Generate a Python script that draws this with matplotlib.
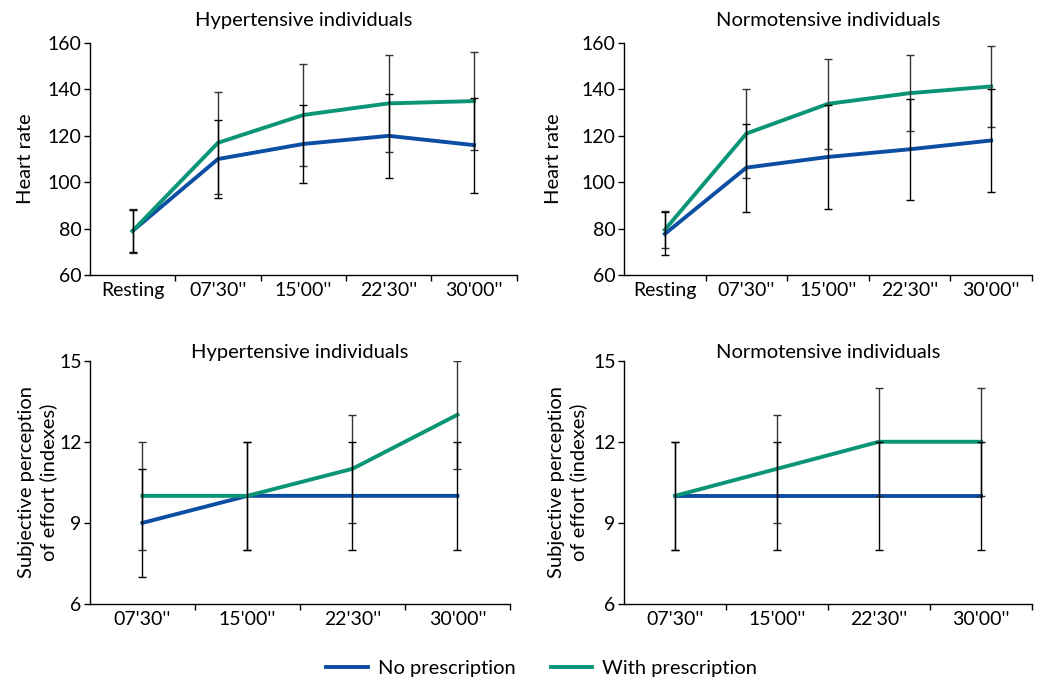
import matplotlib
matplotlib.use('Agg')
import matplotlib.pyplot as plt
from matplotlib.lines import Line2D

plt.rcParams['font.family'] = ['Lato', 'DejaVu Sans']

hr_times = ['Resting', "07'30''", "15'00''", "22'30''", "30'00''"]
rpe_times = ["07'30''", "15'00''", "22'30''", "30'00''"]

# heart rate, hypertensive
hr_hyp_no = [79, 110, 116.5, 120, 116]
hr_hyp_no_err = [9, 17, 17, 18, 20.5]
hr_hyp_with = [79, 117, 129, 134, 135]
hr_hyp_with_err = [9.5, 22, 22, 21, 21]

# heart rate, normotensive
hr_norm_no = [77.7, 106.3, 110.9, 114.2, 118]
hr_norm_no_err = [9.3, 19, 22.5, 21.7, 22.3]
hr_norm_with = [79.5, 121, 133.8, 138.4, 141.3]
hr_norm_with_err = [8, 19, 19.5, 16.5, 17.3]

# subjective perception of effort, hypertensive
rpe_hyp_no = [9, 10, 10, 10]
rpe_hyp_no_err = [2, 2, 2, 2]
rpe_hyp_with = [10, 10, 11, 13]
rpe_hyp_with_err = [2, 2, 2, 2]

# subjective perception of effort, normotensive
rpe_norm_no = [10, 10, 10, 10]
rpe_norm_no_err = [2, 2, 2, 2]
rpe_norm_with = [10, 11, 12, 12]
rpe_norm_with_err = [2, 2, 2, 2]

blue = '#0b4ea2'
green = '#0a9577'

fig = plt.figure(figsize=(10.46, 6.84), dpi=100)
ax_tl = fig.add_axes([0.086, 0.598, 0.408, 0.339])
ax_tr = fig.add_axes([0.5966, 0.598, 0.390, 0.339])
ax_bl = fig.add_axes([0.086, 0.117, 0.4015, 0.3557])
ax_br = fig.add_axes([0.5966, 0.117, 0.390, 0.3557])


def draw(ax, cats, no, no_err, wi, wi_err, title, ylabel, ylim, yticks, tpad, lpad):
    x = list(range(len(cats)))
    ax.plot(x, no, color=blue, lw=2.8, zorder=2, solid_joinstyle='miter')
    ax.plot(x, wi, color=green, lw=2.8, zorder=2, solid_joinstyle='miter')
    ax.errorbar(x, wi, yerr=wi_err, fmt='none', ecolor='#333333', elinewidth=1.0,
                capsize=3, capthick=1.0, zorder=3)
    ax.errorbar(x, no, yerr=no_err, fmt='none', ecolor='black', elinewidth=1.0,
                capsize=3, capthick=1.0, zorder=3)
    ax.set_xlim(-0.5, len(cats) - 0.5)
    ax.set_ylim(*ylim)
    ax.set_yticks(yticks)
    ax.set_xticks(x)
    ax.set_xticklabels(cats)
    ax.set_xticks([i + 0.5 for i in x], minor=True)
    ax.tick_params(axis='x', which='major', length=0, labelsize=14, pad=5)
    ax.tick_params(axis='x', which='minor', length=4, width=1)
    ax.tick_params(axis='y', length=4, width=1, labelsize=14, pad=2)
    for s in ['top', 'right']:
        ax.spines[s].set_visible(False)
    for s in ['left', 'bottom']:
        ax.spines[s].set_linewidth(1.0)
    ax.set_title(title, fontsize=14.5, pad=tpad)
    ax.set_ylabel(ylabel, fontsize=14.5, linespacing=1.3, labelpad=lpad)


draw(ax_tl, hr_times, hr_hyp_no, hr_hyp_no_err, hr_hyp_with, hr_hyp_with_err,
     'Hypertensive individuals', 'Heart rate', (60, 160), [60, 80, 100, 120, 140, 160], 12, 10)
draw(ax_tr, hr_times, hr_norm_no, hr_norm_no_err, hr_norm_with, hr_norm_with_err,
     'Normotensive individuals', 'Heart rate', (60, 160), [60, 80, 100, 120, 140, 160], 12, 14)
draw(ax_bl, rpe_times, rpe_hyp_no, rpe_hyp_no_err, rpe_hyp_with, rpe_hyp_with_err,
     'Hypertensive individuals', 'Subjective perception\nof effort (indexes)', (6, 15), [6, 9, 12, 15], 2, 1)
draw(ax_br, rpe_times, rpe_norm_no, rpe_norm_no_err, rpe_norm_with, rpe_norm_with_err,
     'Normotensive individuals', 'Subjective perception\nof effort (indexes)', (6, 15), [6, 9, 12, 15], 2, 4)

handles = [Line2D([], [], color=blue, lw=2.8), Line2D([], [], color=green, lw=2.8)]
fig.legend(handles, ['No prescription', 'With prescription'], loc='center',
           bbox_to_anchor=(0.518, 0.023), ncol=2, frameon=False, fontsize=14.5,
           handlelength=2.05, columnspacing=1.75, handletextpad=0.5)

fig.savefig('out.png', dpi=100)
